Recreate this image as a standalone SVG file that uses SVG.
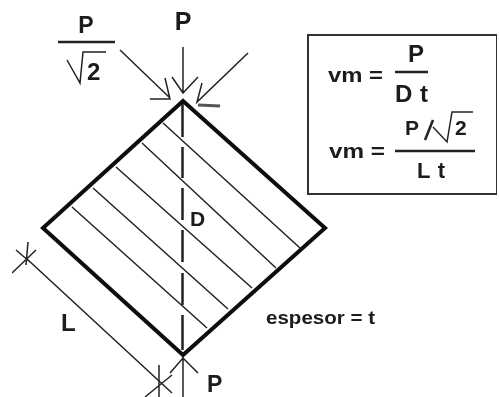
<svg xmlns="http://www.w3.org/2000/svg" width="499" height="397" viewBox="0 0 499 397">
<style>
text{font-family:"Liberation Sans",Arial,sans-serif;font-weight:bold;fill:#1a1a1a}
.m{text-anchor:middle}
.t{fill:none;stroke:#222;stroke-width:1.5}
.k{fill:none;stroke:#111;stroke-width:4}
.f{fill:none;stroke:#222;stroke-width:2.5}
.g{fill:none;stroke:#555;stroke-width:3}
</style>
<defs><filter id="soft" x="0" y="0" width="1" height="1"><feGaussianBlur stdDeviation="0.45"/></filter></defs>
<rect width="499" height="397" fill="#fff"/>
<g filter="url(#soft)">
<g id="connectors">
<path class="t" d="M120 50L170 98M150 99H170L165 78"/>
<path class="t" d="M183 47V93M172 77L183 93L198 77"/>
<path class="t" d="M248 53L197 102L202 83"/>
<path class="g" d="M198 105L220 106"/>
<path class="f" d="M182.500 101V137M182.500 147V178M182.500 188V220M182.500 230V262M182.500 273V305M182.500 315V350"/>
<path class="t" d="M163 123L300 248M142 143L276 268M116 167L252 288M93 188L228 309M72 207L207 328"/>
<path class="t" d="M27 259L172 393M28 242L26 265M12 273L36 250M16 250L30 262"/>
<path class="t" d="M159 365V397M145 397L172 375"/>
<path class="t" d="M183 356V397M170 373L183 358L198 373"/>
</g>
<g id="diamond"><path class="k" d="M183 101L325 228L183 355L43 228Z"/></g>
<g id="label-p-root2">
<path class="f" d="M58 42H115"/>
<text class="m" x="86" y="33" font-size="23">P</text>
<path class="t" d="M67 60L80 83L83 52H106"/>
<text x="87" y="80" font-size="24">2</text>
</g>
<g id="label-p-top"><text class="m" x="183" y="30" font-size="25">P</text></g>
<g id="label-d"><text x="190" y="226" font-size="21">D</text></g>
<g id="label-l"><text x="61" y="331" font-size="24">L</text></g>
<g id="label-p-bottom"><text x="207" y="392" font-size="23">P</text></g>
<g id="label-espesor"><text x="266" y="324" font-size="18" textLength="109" lengthAdjust="spacingAndGlyphs">espesor = t</text></g>
<g id="formula-box">
<rect x="308" y="35" width="189" height="159" fill="none" stroke="#333" stroke-width="2"/>
<text x="328" y="82" font-size="20" textLength="55" lengthAdjust="spacingAndGlyphs">vm =</text>
<text class="m" x="416" y="62" font-size="24">P</text>
<path class="f" d="M395 72H428"/>
<text x="395" y="102" font-size="24" textLength="33">D t</text>
<text x="329" y="158" font-size="20" textLength="56" lengthAdjust="spacingAndGlyphs">vm =</text>
<text x="405" y="135" font-size="21">P</text>
<path class="f" d="M425 140L433 120"/>
<path class="t" d="M433 127L447 142L452 112H473"/>
<text x="455" y="135" font-size="21">2</text>
<path class="f" d="M395 151H475"/>
<text x="417" y="178" font-size="22" textLength="28">L t</text>
</g>
</g>
</svg>
